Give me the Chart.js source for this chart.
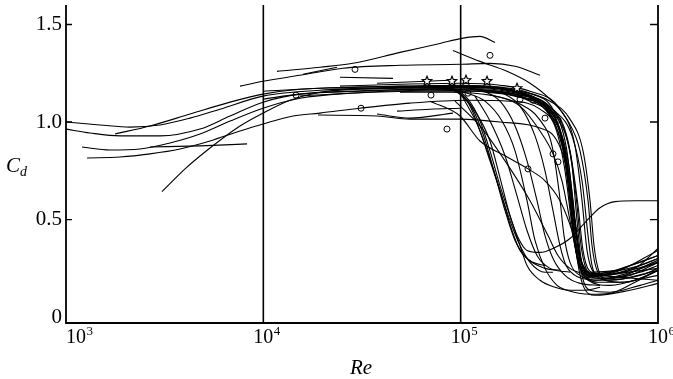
<!DOCTYPE html>
<html>
<head>
<meta charset="utf-8">
<script src="https://cdn.jsdelivr.net/npm/chart.js@4.4.1/dist/chart.umd.min.js"></script>
<style>
html,body{margin:0;padding:0;background:#fff;}
#wrap{width:673px;height:379px;}
</style>
</head>
<body>
<div id="wrap"><canvas id="c" width="673" height="379"></canvas></div>
<script>
// ---- axis / tick data ----
const xTickValues = [1e3, 1e4, 1e5, 1e6];
const xTickBase = '10';
const xTickExponents = ['3', '4', '5', '6'];
const xGridValues = [1e4, 1e5];
const yTickValues = [0, 0.5, 1.0, 1.5];
const yTickLabels = ['0', '0.5', '1.0', '1.5'];
const xTitle = 'Re';
const yTitle = 'C';
const yTitleSub = 'd';

// ---- curves: [Re, Cd] ----
const curveF1 = [[1000,1.000],[1487,0.985],[2110,0.974],[2995,0.985],[4250,1.020],[6031,1.066],[9960,1.133],[19370,1.163],[49270,1.173],[101600,1.179],[158300,1.168],[224600,1.128],[283600,1.056],[326200,0.929],[349900,0.750],[371000,0.520],[393300,0.316],[421800,0.219],[479600,0.189],[641900,0.214],[1000000,0.281]];
const curveF2 = [[1000,0.964],[1323,0.944],[1878,0.929],[2995,0.929],[4776,0.964],[6778,1.031],[9960,1.102],[15340,1.143],[27490,1.158],[62220,1.168],[111500,1.168],[177800,1.148],[252400,1.097],[311300,0.980],[342000,0.776],[362400,0.546],[384200,0.342],[412100,0.240],[463000,0.209],[721300,0.265],[1000000,0.316]];
const curveF3 = [[1205,0.872],[1671,0.857],[2371,0.862],[3365,0.893],[4776,0.939],[6778,1.005],[9960,1.071],[15340,1.122],[27490,1.148],[69920,1.163],[125300,1.158],[199900,1.128],[277100,1.046],[330100,0.852],[358100,0.597],[379700,0.367],[407300,0.250],[452300,0.214],[605600,0.230],[1000000,0.342]];
const curveF4 = [[1278,0.816],[1878,0.821],[2665,0.837],[3782,0.862],[5367,0.903],[7617,0.954],[9960,0.990],[14140,1.031],[19370,1.046],[30890,1.071],[55370,1.097],[107700,1.112],[177800,1.107],[252400,1.066],[304100,0.964],[337900,0.750],[366700,0.469],[393300,0.281],[442000,0.189],[571300,0.163],[810500,0.199],[1000000,0.240]];
const curveF6 = [[3065,0.643],[4011,0.760],[5367,0.867],[7617,0.980],[9960,1.046],[13650,1.112],[19370,1.153],[30890,1.168],[78570,1.179],[125300,1.179],[199900,1.148],[267500,1.077],[318700,0.954],[349900,0.724],[375400,0.418],[397900,0.265],[436900,0.204],[571300,0.199],[1000000,0.291]];
const curveF7 = [[1772,0.939],[2665,0.980],[4250,1.041],[6778,1.102],[9960,1.143],[15340,1.168],[30890,1.179],[69920,1.184],[111500,1.184],[177800,1.163],[252400,1.107],[307700,1.005],[345800,0.801],[375400,0.520],[402600,0.301],[436900,0.230],[508400,0.214],[764800,0.250],[1000000,0.352]];
const curveF8 = [[9960,1.158],[19370,1.173],[49270,1.184],[99230,1.189],[158300,1.179],[224600,1.148],[293700,1.066],[342000,0.878],[371000,0.597],[393300,0.367],[421800,0.250],[463000,0.219],[810500,0.281],[1000000,0.316]];
const curveF9 = [[9960,1.117],[15340,1.143],[30890,1.158],[69920,1.168],[125300,1.163],[199900,1.138],[283600,1.077],[349900,0.903],[384200,0.622],[407300,0.367],[431800,0.250],[485200,0.209],[721300,0.240],[1000000,0.281]];
const curveF10 = [[15340,1.133],[27490,1.148],[62220,1.158],[111500,1.158],[188600,1.133],[267500,1.066],[326200,0.913],[362400,0.648],[388700,0.393],[416900,0.260],[468500,0.224],[810500,0.265],[1000000,0.301]];
const curveF11 = [[21770,1.168],[49270,1.179],[88290,1.184],[140800,1.179],[211900,1.143],[290300,1.056],[358100,0.852],[393300,0.571],[416900,0.342],[447200,0.240],[508400,0.219],[1000000,0.250]];
const curveF12 = [[24460,1.184],[49270,1.194],[99230,1.199],[158300,1.189],[224600,1.158],[318700,1.066],[379700,0.878],[412100,0.597],[436900,0.342],[474000,0.230],[571300,0.209],[1000000,0.189]];
const curveF13 = [[39010,1.173],[78570,1.184],[140800,1.179],[211900,1.148],[300600,1.056],[366700,0.929],[412100,0.699],[442000,0.418],[463000,0.265],[508400,0.199],[641900,0.179],[1000000,0.214]];
const curveF14 = [[49270,1.168],[99230,1.173],[158300,1.163],[224600,1.128],[283600,1.066],[334000,0.964],[366700,0.776],[388700,0.495],[407300,0.301],[431800,0.214],[496700,0.179],[680600,0.179],[1000000,0.240]];
const curveF15 = [[111500,1.168],[199900,1.133],[290300,1.031],[349900,0.801],[384200,0.444],[412100,0.214],[452300,0.138],[571300,0.128],[810500,0.163],[1000000,0.189]];
const curveF16 = [[125300,1.158],[224600,1.107],[304100,0.980],[358100,0.673],[384200,0.342],[416900,0.163],[479600,0.112],[721300,0.138],[1000000,0.173]];
const curveF17 = [[62220,1.179],[125300,1.179],[199900,1.158],[283600,1.107],[358100,1.015],[416900,0.852],[452300,0.597],[474000,0.367],[496700,0.250],[545300,0.199],[721300,0.214],[1000000,0.281]];
const curveF18 = [[49270,1.153],[88290,1.153],[140800,1.138],[199900,1.092],[252400,1.010],[290300,0.878],[315000,0.648],[334000,0.418],[358100,0.281],[402600,0.214],[508400,0.189],[810500,0.214],[1000000,0.250]];
const curveF19 = [[140800,1.143],[199900,1.082],[252400,0.954],[293700,0.837],[326200,0.699],[358100,0.495],[388700,0.316],[426800,0.230],[508400,0.199],[810500,0.230],[1000000,0.265]];
const curveE1 = [[69920,1.179],[93600,1.168],[111500,1.082],[125300,0.954],[140800,0.801],[158300,0.648],[177800,0.495],[199900,0.367],[224600,0.281],[267500,0.230],[293700,0.230]];
const curveE2 = [[78570,1.179],[101600,1.148],[122400,1.031],[140800,0.852],[158300,0.673],[177800,0.520],[195300,0.408],[216900,0.342],[252400,0.332],[300600,0.357],[358100,0.403],[426800,0.485],[508400,0.561],[605600,0.592],[764800,0.597],[1000000,0.597]];
const curveE3 = [[93600,1.168],[118200,1.056],[140800,0.903],[158300,0.714],[177800,0.520],[199900,0.367],[216900,0.265],[252400,0.189],[300600,0.153],[358100,0.138],[426800,0.138],[508400,0.153]];
const curveE4 = [[101600,1.133],[122400,0.980],[145800,0.765],[163900,0.597],[182000,0.444],[199900,0.342],[232600,0.281],[267500,0.265]];
const curveE5 = [[69920,1.107],[99230,1.031],[125300,0.903],[167800,0.827],[219400,0.760],[267500,0.699],[318700,0.597],[366700,0.444],[402600,0.301],[452300,0.230],[641900,0.240]];
const curveE6 = [[91440,1.367],[125300,1.311],[171700,1.260],[224600,1.199],[283600,1.117],[349900,1.005],[402600,0.852],[442000,0.597],[463000,0.367],[490900,0.240],[571300,0.189],[1000000,0.240]];
const curveE8 = [[101600,1.158],[132800,1.107],[162000,1.005],[188600,0.852],[216900,0.597],[238100,0.393],[267500,0.250],[307700,0.163],[345800,0.138],[452300,0.117],[571300,0.122],[764800,0.179],[1000000,0.240]];
const curveE10 = [[125300,1.168],[158300,1.107],[188600,0.980],[216900,0.801],[243700,0.597],[267500,0.418],[293700,0.301],[337900,0.214],[402600,0.173],[508400,0.163]];
const curveE11 = [[158300,1.158],[199900,1.082],[238100,0.929],[267500,0.750],[293700,0.546],[318700,0.367],[342000,0.265],[379700,0.214],[452300,0.189]];
const curveE12 = [[88290,1.173],[108900,1.107],[128300,0.954],[147500,0.750],[167800,0.546],[188600,0.393],[216900,0.301],[267500,0.250],[318700,0.240]];
const curveE13 = [[118200,1.133],[140800,1.005],[167800,0.827],[193000,0.622],[216900,0.444],[243700,0.316],[283600,0.250],[358100,0.230]];
const curveE14 = [[93600,1.107],[125300,0.980],[167800,0.801],[224600,0.597],[277100,0.418],[311300,0.316],[358100,0.250],[452300,0.214]];
const curveM2 = [[18920,1.036],[37670,1.031],[55370,1.015],[99230,1.015],[158300,1.000],[252400,0.969],[304100,0.913],[342000,0.776],[379700,0.495],[407300,0.291],[447200,0.209],[641900,0.230],[1000000,0.301]];
const curveM3 = [[37670,1.041],[55370,1.020],[91440,1.046]];
const curveM4 = [[47580,1.056],[69920,1.066],[99230,1.071]];
const curveC5 = [[2665,0.872],[4776,0.878],[8265,0.888]];
const curveT1 = [[11730,1.260],[19370,1.281],[28470,1.301],[49270,1.357],[78570,1.403],[101600,1.429],[125300,1.439],[149300,1.408]];
const curveT2 = [[7617,1.184],[9960,1.209],[15340,1.240],[25330,1.276],[49270,1.291],[99230,1.296],[140800,1.301],[188600,1.286],[252400,1.240]];
const curveT3 = [[15890,1.245],[23620,1.281]];
const curveT4 = [[24460,1.230],[45400,1.224]];
const curveT5 = [[37670,1.199],[88290,1.214]];

// ---- measured points ----
const circlePoints = [[14640,1.138],[29140,1.270],[31260,1.071],[70740,1.138],[85250,0.964],[108900,1.148],[140800,1.342],[199900,1.117],[232600,1.112],[267500,1.020],[311300,1.010],[293700,0.837],[311300,0.796],[219400,0.760]];
const starPoints = [[67520,1.209],[90380,1.209],[106400,1.214],[136000,1.209],[193000,1.173]];

const curves = [curveF1,curveF2,curveF3,curveF4,curveF6,curveF7,curveF8,curveF9,curveF10,curveF11,curveF12,curveF13,curveF14,curveF15,curveF16,curveF17,curveF18,curveF19,
  curveE1,curveE2,curveE3,curveE4,curveE5,curveE6,curveE8,curveE10,curveE11,curveE12,curveE13,curveE14,
  curveM2,curveM3,curveM4,curveC5,curveT1,curveT2,curveT3,curveT4,curveT5];

const datasets = curves.map(d => ({
  type: 'line', data: d, borderColor: '#000', borderWidth: 1.1,
  pointRadius: 0, fill: false, cubicInterpolationMode: 'monotone'
}));
datasets.push({
  type: 'scatter', data: circlePoints, pointStyle: 'circle', pointRadius: 3,
  borderColor: '#000', backgroundColor: '#fff', borderWidth: 1, showLine: false
});
const STAR_INDEX = datasets.length;
datasets.push({
  type: 'scatter', data: starPoints, pointRadius: 0, showLine: false, starMarker: true
});

const SERIF = '"Liberation Serif", "Times New Roman", serif';

const frame = {
  id: 'frame',
  beforeDatasetsDraw(chart) {
    const {ctx, chartArea: a, scales: {x}} = chart;
    ctx.save();
    ctx.strokeStyle = '#000';
    ctx.lineWidth = 1.6;
    ctx.beginPath();
    xGridValues.forEach(v => {
      const px = x.getPixelForValue(v);
      ctx.moveTo(px, a.top); ctx.lineTo(px, a.bottom);
    });
    ctx.stroke();
    ctx.restore();
  },
  afterDatasetsDraw(chart) {
    // outlined five-point stars at the star dataset's element positions
    const ctx = chart.ctx;
    const meta = chart.getDatasetMeta(STAR_INDEX);
    ctx.save();
    ctx.strokeStyle = '#000'; ctx.fillStyle = '#fff'; ctx.lineWidth = 1.2;
    meta.data.forEach(el => {
      const r = 5;
      ctx.beginPath();
      for (let i = 0; i < 10; i++) {
        const rad = i % 2 === 0 ? r : r * 0.45;
        const ang = -Math.PI / 2 + i * Math.PI / 5;
        const px = el.x + rad * Math.cos(ang), py = el.y + rad * Math.sin(ang);
        if (i === 0) ctx.moveTo(px, py); else ctx.lineTo(px, py);
      }
      ctx.closePath();
      ctx.fill(); ctx.stroke();
    });
    ctx.restore();
  },
  afterDraw(chart) {
    const {ctx, chartArea: a, scales: {x, y}} = chart;
    ctx.save();
    ctx.strokeStyle = '#000';
    ctx.lineWidth = 1.8;
    ctx.beginPath();
    ctx.moveTo(a.left, a.top); ctx.lineTo(a.left, a.bottom); ctx.lineTo(a.right, a.bottom); ctx.lineTo(a.right, a.top);
    ctx.stroke();
    ctx.lineWidth = 1.4;
    ctx.beginPath();
    yTickValues.forEach(v => {
      if (v <= 0) return;
      const py = y.getPixelForValue(v);
      ctx.moveTo(a.left, py); ctx.lineTo(a.left + 6, py);
      ctx.moveTo(a.right, py); ctx.lineTo(a.right - 8, py);
    });
    ctx.stroke();
    // x tick labels with superscript exponents
    ctx.fillStyle = '#000';
    ctx.textBaseline = 'alphabetic';
    ctx.textAlign = 'left';
    xTickValues.forEach((v, i) => {
      const px = x.getPixelForValue(v);
      ctx.font = '20px ' + SERIF;
      const w = ctx.measureText(xTickBase).width;
      const sx = i === 0 ? px : px - w / 2;
      ctx.fillText(xTickBase, sx, 343);
      ctx.font = '13px ' + SERIF;
      ctx.fillText(xTickExponents[i], sx + w + 0.5, 335);
    });
    // axis titles
    ctx.font = 'italic 21px ' + SERIF;
    ctx.fillText(xTitle, 350, 374);
    ctx.fillText(yTitle, 6, 172);
    ctx.font = 'italic 14px ' + SERIF;
    ctx.fillText(yTitleSub, 20, 176);
    ctx.restore();
  }
};

new Chart(document.getElementById('c'), {
  data: { datasets },
  options: {
    responsive: false,
    animation: false,
    devicePixelRatio: 1,
    layout: { padding: { top: 4, right: 15, left: 0, bottom: 0 } },
    plugins: { legend: { display: false }, tooltip: { enabled: false } },
    scales: {
      x: {
        type: 'logarithmic', min: 1e3, max: 1e6,
        ticks: { display: false },
        grid: { display: false, drawTicks: false },
        border: { display: false },
        afterFit: s => { s.height = 56; s.paddingLeft = 0; s.paddingRight = 0; }
      },
      y: {
        type: 'linear', min: -0.03, max: 1.6,
        afterBuildTicks: s => { s.ticks = yTickValues.map(v => ({ value: v })); },
        ticks: {
          callback: (v, i) => yTickLabels[i],
          font: { family: SERIF, size: 21 }, color: '#000', padding: 4
        },
        grid: { display: false, drawTicks: false },
        border: { display: false },
        afterFit: s => { s.width = 66; s.paddingTop = 0; s.paddingBottom = 0; }
      }
    }
  },
  plugins: [frame]
});
</script>
</body>
</html>
